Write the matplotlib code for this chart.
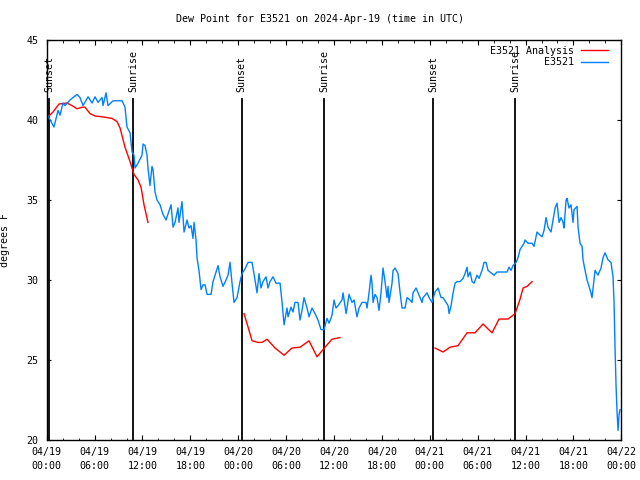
import matplotlib
matplotlib.use("Agg")
import matplotlib.pyplot as plt
from matplotlib.ticker import MultipleLocator

# hours since 2024-04-19 00:00 UTC
obs_hours = [
    0.16, 0.91, 1.42, 1.67, 2.04, 2.29, 2.92, 3.80, 4.17, 4.55, 5.18, 5.68,
    6.05, 6.43, 6.93, 7.06, 7.43, 7.68, 8.31, 9.44, 9.81, 10.06, 10.44, 10.69,
    10.94, 11.07, 11.44, 11.94, 12.07, 12.32, 12.57, 12.69, 12.94, 13.19, 13.32,
    13.57, 13.82, 14.20, 14.57, 14.95, 15.45, 15.58, 15.83, 16.08, 16.45, 16.58,
    16.95, 17.21, 17.58, 17.83, 18.08, 18.33, 18.46, 18.71, 18.83, 19.08, 19.34,
    19.59, 19.84, 20.09, 20.59, 20.84, 21.22, 21.47, 21.72, 22.09, 22.47, 22.72,
    22.97, 23.22, 23.47, 23.85, 24.10, 24.22, 24.47, 24.85, 25.23, 25.73, 26.10,
    26.35, 26.60, 26.85, 27.10, 27.48, 27.73, 27.98, 28.36, 28.73, 29.24, 29.49,
    29.74, 30.11, 30.24, 30.61, 30.86, 31.11, 31.49, 31.74, 31.99, 32.24, 32.62,
    32.87, 33.24, 33.62, 33.99, 34.37, 34.75, 35.12, 35.38, 35.75, 36.00, 36.25,
    36.50, 37.00, 37.13, 37.51, 37.63, 37.88, 38.26, 38.51, 38.88, 39.14, 39.51,
    40.01, 40.14, 40.39, 40.64, 40.76, 40.89, 41.14, 41.39, 41.64, 41.89, 42.14,
    42.39, 42.64, 42.77, 42.89, 43.27, 43.40, 43.65, 44.02, 44.27, 44.52, 44.90,
    45.15, 45.53, 45.78, 45.90, 46.28, 46.53, 47.03, 47.16, 47.66, 47.91, 48.28,
    48.66, 49.04, 49.41, 49.66, 50.04, 50.29, 50.42, 50.67, 50.92, 51.17, 51.42,
    51.79, 52.17, 52.42, 52.67, 52.79, 53.05, 53.30, 53.55, 53.92, 54.17, 54.55,
    54.80, 55.05, 55.30, 55.80, 56.05, 56.43, 57.68, 57.93, 58.18, 58.43, 58.81,
    59.06, 59.31, 59.56, 59.81, 59.94, 60.31, 60.81, 61.06, 61.44, 61.82, 62.07,
    62.32, 62.57, 62.82, 63.19, 63.44, 63.70, 63.95, 64.20, 64.45, 64.70, 64.82,
    65.08, 65.20, 65.45, 65.70, 65.95, 66.08, 66.45, 66.58, 66.83, 67.08, 67.21,
    67.46, 67.71, 67.83, 68.08, 68.33, 68.46, 68.71, 68.96, 69.08, 69.46, 69.71,
    69.96, 70.21, 70.34, 70.71, 70.96, 71.09, 71.21, 71.34, 71.47, 71.59, 71.72,
    71.84,
]
obs_dewpt = [
    40.25, 39.56, 40.6, 40.3, 41.06, 40.9, 41.25, 41.6, 41.4, 40.9, 41.45, 41.06,
    41.45, 41.1, 41.4, 40.9, 41.7, 40.9, 41.2, 41.2, 40.8, 39.56, 39.2, 38.0,
    37.8, 37.0, 37.3, 37.8, 38.5, 38.4, 37.8, 37.0, 35.9, 37.1, 36.9,
    35.5, 35.0, 34.7, 34.1, 33.75, 34.5, 34.7, 33.3, 33.6, 34.5, 33.6,
    34.9, 33.0, 33.75, 33.25, 33.4, 32.6, 33.6, 32.5, 31.4, 30.6, 29.4,
    29.7, 29.7, 29.1, 29.1, 29.9, 30.5, 30.9, 30.2, 29.6, 30.0, 30.3,
    31.1, 29.8, 28.6, 28.9, 29.6, 29.9, 30.4, 30.7, 31.1, 31.1, 30.0,
    29.2, 30.4, 29.5, 29.9, 30.2, 29.5, 29.9, 30.2, 29.8, 29.8, 28.6,
    27.2, 28.25, 27.7, 28.3, 28.0, 28.6, 28.6, 27.5, 28.1, 28.9, 28.25,
    27.7, 28.25, 27.9, 27.5, 26.9, 26.9, 27.6, 27.3, 27.8, 28.75, 28.25,
    28.4, 28.75, 29.2, 27.9, 28.25, 29.1, 28.6, 28.75, 27.7, 28.25, 28.6,
    28.6, 28.25, 29.2, 30.3, 29.8, 28.6, 29.1, 28.9, 28.1, 29.2, 30.75,
    29.9, 28.9, 29.6, 28.6, 29.8, 30.6, 30.75, 30.4, 29.25, 28.25, 28.25,
    28.9, 28.75, 28.6, 29.2, 29.5, 29.2, 28.6, 28.9, 29.2, 28.9, 28.6,
    29.25, 29.5, 28.9, 28.9, 28.6, 28.4, 27.9, 28.4, 29.2, 29.8, 29.9,
    29.9, 30.1, 30.4, 30.8, 30.2, 30.5, 29.9, 29.8, 30.3, 30.1, 30.6,
    31.1, 31.1, 30.6, 30.4, 30.3, 30.5, 30.5, 30.8, 30.6, 30.9, 31.1,
    31.4, 31.9, 32.1, 32.3, 32.5, 32.3, 32.3, 32.1, 33.0, 32.8, 32.7,
    33.1, 33.9, 33.3, 33.0, 33.75, 34.5, 34.8, 33.6, 33.9, 33.6, 33.25,
    35.0, 35.1, 34.5, 34.7, 33.6, 34.4, 34.6, 33.3, 32.3, 32.1, 31.25,
    30.6, 30.0, 29.8, 29.4, 28.9, 29.5, 30.6, 30.4, 30.3, 30.75, 31.4,
    31.7, 31.4, 31.25, 31.1, 30.2, 28.6, 25.8, 23.4, 21.7, 20.6, 21.6,
    21.9,
]

# analysis (three separate runs)
ana1_hours = [0.16, 0.79, 1.54, 2.54, 3.17, 3.80, 4.42, 4.80, 5.43, 6.05, 6.93,
              8.18, 8.81, 9.19, 9.81, 10.44, 10.94, 11.44, 11.82, 12.19, 12.69]
ana1_dewpt = [40.2, 40.5, 41.0, 41.06, 40.9, 40.7, 40.8, 40.8, 40.4, 40.25, 40.2,
              40.1, 39.9, 39.5, 38.3, 37.4, 36.6, 36.25, 35.8, 34.7, 33.6]
ana2_hours = [24.72, 25.23, 25.73, 26.48, 26.98, 27.61, 28.61, 29.74, 30.74,
              31.74, 32.87, 33.87, 34.87, 35.75, 36.75]
ana2_dewpt = [27.9, 27.06, 26.2, 26.1, 26.1, 26.3, 25.75, 25.3, 25.75,
              25.8, 26.2, 25.2, 25.8, 26.3, 26.4]
ana3_hours = [48.66, 49.66, 50.54, 51.54, 52.67, 53.67, 54.67, 55.80, 56.68,
              57.81, 58.69, 59.31, 59.69, 60.19, 60.81]
ana3_dewpt = [25.75, 25.5, 25.8, 25.9, 26.7, 26.7, 27.25, 26.7, 27.56,
              27.56, 27.9, 28.8, 29.5, 29.6, 29.9]

sun_hours = [0.33, 10.85, 24.43, 34.79, 48.45, 58.72]
sun_labels = ["Sunset", "Sunrise", "Sunset", "Sunrise", "Sunset", "Sunrise"]

xtick_hours = [0, 6, 12, 18, 24, 30, 36, 42, 48, 54, 60, 66, 72]
xtick_labels = ["04/19\n00:00", "04/19\n06:00", "04/19\n12:00", "04/19\n18:00",
                "04/20\n00:00", "04/20\n06:00", "04/20\n12:00", "04/20\n18:00",
                "04/21\n00:00", "04/21\n06:00", "04/21\n12:00", "04/21\n18:00",
                "04/22\n00:00"]

plt.rcParams.update({
    "font.family": "DejaVu Sans Mono",
    "font.size": 7.2,
})

RED = "#ff0000"
BLUE = "#0080ff"

fig = plt.figure(figsize=(6.4, 4.8), dpi=100)
ax = fig.add_axes([0.073, 0.0833, 0.8978, 0.8334])

for h, lab in zip(sun_hours, sun_labels):
    ax.plot([h, h], [20, 41.3], color="black", linewidth=1.3)
    ax.text(h, 41.72, lab, rotation=90, ha="center", va="bottom")

ax.plot(ana1_hours, ana1_dewpt, color=RED, linewidth=1.0, label="E3521 Analysis")
ax.plot(ana2_hours, ana2_dewpt, color=RED, linewidth=1.0)
ax.plot(ana3_hours, ana3_dewpt, color=RED, linewidth=1.0)
ax.plot(obs_hours, obs_dewpt, color=BLUE, linewidth=1.0, label="E3521")

ax.set_xlim(0, 72)
ax.set_ylim(20, 45)
ax.set_xticks(xtick_hours)
ax.set_xticklabels(xtick_labels, linespacing=1.55)
ax.xaxis.set_minor_locator(MultipleLocator(2))
ax.set_yticks([20, 25, 30, 35, 40, 45])
ax.tick_params(axis="both", which="both", direction="in", top=True, right=True,
               colors="black", labelsize=7.2)
ax.tick_params(axis="x", which="major", length=3.5, pad=5)
ax.tick_params(axis="x", which="minor", length=1.8)
ax.tick_params(axis="y", which="major", length=3.0, pad=6)
for s in ax.spines.values():
    s.set_linewidth(1.0)
    s.set_color("black")

ax.set_ylabel("degrees F")
ax.yaxis.set_label_coords(-0.064, 0.5)
fig.text(0.5, 1 - 19 / 480, "Dew Point for E3521 on 2024-Apr-19 (time in UTC)",
         ha="center", va="center")

ax.legend(loc="upper right", frameon=False, markerfirst=False,
          handlelength=2.7, handletextpad=0.7, labelspacing=0.15,
          borderaxespad=0.2, fontsize=7.2, bbox_to_anchor=(0.988, 1.0))

fig.savefig("out.png", dpi=100)
